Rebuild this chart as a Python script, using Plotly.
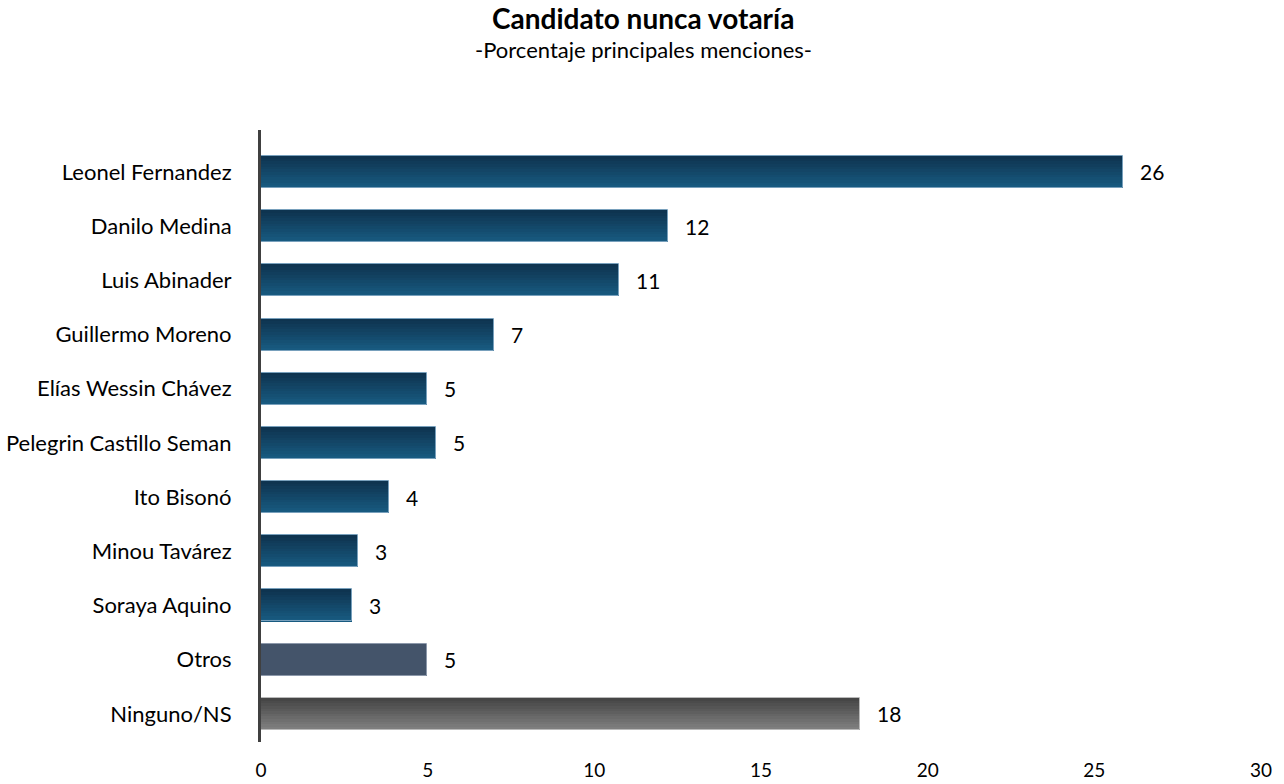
import plotly.graph_objects as go

categories = ["Leonel Fernandez", "Danilo Medina", "Luis Abinader", "Guillermo Moreno",
              "Elías Wessin Chávez", "Pelegrin Castillo Seman", "Ito Bisonó", "Minou Tavárez",
              "Soraya Aquino", "Otros", "Ninguno/NS"]
values = [25.86, 12.21, 10.74, 6.99, 4.98, 5.25, 3.84, 2.91, 2.73, 4.98, 17.97]
labels = ["26", "12", "11", "7", "5", "5", "4", "3", "3", "5", "18"]
x_ticks = [0, 5, 10, 15, 20, 25, 30]

# gradient colour stops (top -> bottom) per bar group, plus edge colour
blue_top, blue_bot, blue_edge = (14, 52, 80), (24, 90, 128), "rgb(120,160,188)"
gray_top, gray_bot, gray_edge = (70, 70, 70), (126, 126, 126), "rgb(185,185,185)"
otros_col, otros_edge = (68, 84, 106), "rgb(140,152,170)"

def lerp(a, b, t):
    return "rgb(%d,%d,%d)" % tuple(round(a[i] + (b[i] - a[i]) * t) for i in range(3))

def bar_style(cat):
    if cat == "Ninguno/NS":
        return gray_top, gray_bot, gray_edge
    if cat == "Otros":
        return otros_col, otros_col, otros_edge
    return blue_top, blue_bot, blue_edge

BAR_W = 0.59
N = 12
fig = go.Figure()
for i in range(N):
    t = i / (N - 1)
    colors = [lerp(bar_style(c)[0], bar_style(c)[1], t) for c in categories]
    fig.add_trace(go.Bar(
        x=values, y=categories, orientation="h",
        width=BAR_W / N + 0.002, offset=-BAR_W / 2 + i * BAR_W / N,
        marker=dict(color=colors, line=dict(width=0)),
        hoverinfo="skip", showlegend=False,
    ))
# thin light edge around each bar
fig.add_trace(go.Bar(
    x=values, y=categories, orientation="h", width=BAR_W, offset=-BAR_W / 2,
    marker=dict(color="rgba(0,0,0,0)",
                line=dict(width=1, color=[bar_style(c)[2] for c in categories])),
    hoverinfo="skip", showlegend=False,
))

for c, v, lab in zip(categories, values, labels):
    fig.add_annotation(x=v, y=c, text=lab, showarrow=False, xanchor="left",
                       xshift=15, font=dict(family="Lato", size=21, color="#000000"))

# title and subtitle
fig.add_annotation(xref="paper", yref="paper", x=0.382, y=1.183, text="<b>Candidato nunca votaría</b>",
                   showarrow=False, xanchor="center", yanchor="middle",
                   font=dict(family="Lato", size=28, color="#000000"))
fig.add_annotation(xref="paper", yref="paper", x=0.382, y=1.131, text="-Porcentaje principales menciones-",
                   showarrow=False, xanchor="center", yanchor="middle",
                   font=dict(family="Lato", size=22, color="#000000"))

fig.update_layout(
    width=1284, height=784,
    barmode="overlay", bargap=0,
    paper_bgcolor="white", plot_bgcolor="white",
    margin=dict(l=261, r=23, t=130, b=42),
    font=dict(family="Lato", size=22, color="#000000"),
)
fig.update_xaxes(range=[0, 30], tickvals=x_ticks, showgrid=False, zeroline=False,
                 showline=False, ticks="", ticklabelstandoff=15, automargin=False,
                 tickfont=dict(family="Lato", size=19, color="#000000"))
fig.update_yaxes(type="category", categoryorder="array", categoryarray=categories,
                 range=[10.52, -0.775], showgrid=False, zeroline=False,
                 showline=True, linecolor="#404040", linewidth=3, ticks="",
                 ticklabelstandoff=22, automargin=False,
                 tickfont=dict(family="Lato", size=22, color="#000000"))

fig.write_html("out.html", config={"displayModeBar": False},
               post_script="document.body.style.margin='0';document.body.style.overflow='hidden';")
